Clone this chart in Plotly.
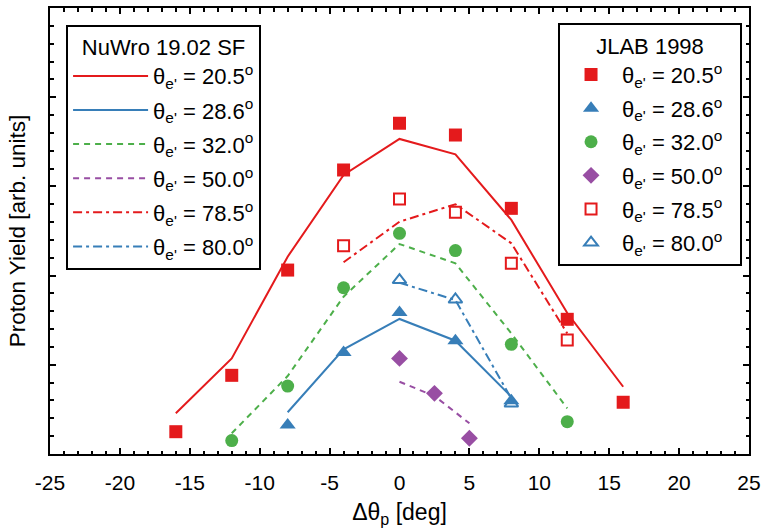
import plotly.graph_objects as go

# ---------------- data ----------------
angle_labels = ["20.5", "28.6", "32.0", "50.0", "78.5", "80.0"]

# NuWro 19.02 SF predictions (lines)
nuwro_x_205 = [-16, -12, -8, -4, 0, 4, 8, 12, 16]
nuwro_y_205 = [2.28, 5.36, 11.06, 15.64, 17.66, 16.8, 13.12, 7.9, 3.77]
nuwro_x_286 = [-8, -4, 0, 4, 8]
nuwro_y_286 = [2.34, 5.87, 7.57, 6.35, 3.21]
nuwro_x_320 = [-12, -8, -4, 0, 4, 8, 12]
nuwro_y_320 = [1.16, 4.37, 8.82, 11.77, 10.69, 6.76, 2.56]
nuwro_x_500 = [0, 2.5, 5]
nuwro_y_500 = [4.05, 3.25, 1.72]
nuwro_x_785 = [-4, 0, 4, 8, 12]
nuwro_y_785 = [10.75, 13.02, 14.0, 11.81, 6.76]
nuwro_x_800 = [0, 4, 8]
nuwro_y_800 = [9.60, 8.63, 3.1]

# JLAB 1998 data (markers)
jlab_x_205 = [-16, -12, -8, -4, 0, 4, 8, 12, 16]
jlab_y_205 = [1.25, 4.41, 10.31, 15.92, 18.54, 17.88, 13.77, 7.55, 2.90]
jlab_x_286 = [-8, -4, 0, 4, 8]
jlab_y_286 = [1.62, 5.69, 7.93, 6.35, 2.98]
jlab_x_320 = [-12, -8, -4, 0, 4, 8, 12]
jlab_y_320 = [0.75, 3.81, 9.32, 12.37, 11.40, 6.15, 1.81]
jlab_x_500 = [0, 2.5, 5]
jlab_y_500 = [5.36, 3.40, 0.88]
jlab_x_785 = [-4, 0, 4, 8, 12]
jlab_y_785 = [11.68, 14.29, 13.55, 10.69, 6.39]
jlab_x_800 = [0, 4, 8]
jlab_y_800 = [9.75, 8.66, 2.83]

x_tickvals = [-25, -20, -15, -10, -5, 0, 5, 10, 15, 20, 25]
x_ticktext = ["-25", "-20", "-15", "-10", "-5", "0", "5", "10", "15", "20", "25"]

# ---------------- styles ----------------
RED, BLUE, GREEN, PURPLE = "#e41a1c", "#377eb8", "#4daf4a", "#984ea3"
FONT = "Liberation Sans, Arial, Helvetica, sans-serif"
DASH = "6px,5px"
DASHDOT = "9px,4px,3px,4px"


def label(a, pad=""):
    return "\u03b8<sub>e'</sub> = " + a + "<sup>o</sup>" + pad


fig = go.Figure()

nuwro = [
    (nuwro_x_205, nuwro_y_205, RED, "solid"),
    (nuwro_x_286, nuwro_y_286, BLUE, "solid"),
    (nuwro_x_320, nuwro_y_320, GREEN, DASH),
    (nuwro_x_500, nuwro_y_500, PURPLE, DASH),
    (nuwro_x_785, nuwro_y_785, RED, DASHDOT),
    (nuwro_x_800, nuwro_y_800, BLUE, DASHDOT),
]
for i, ((xs, ys, c, d), a) in enumerate(zip(nuwro, angle_labels)):
    fig.add_trace(go.Scatter(
        x=xs, y=ys, mode="lines", name=label(a),
        line=dict(color=c, width=2, dash=d), legend="legend",
        legendgroup="n%d" % i,
    ))

jlab = [
    (jlab_x_205, jlab_y_205, RED, "square", 13),
    (jlab_x_286, jlab_y_286, BLUE, "triangle-up", 14),
    (jlab_x_320, jlab_y_320, GREEN, "circle", 13),
    (jlab_x_500, jlab_y_500, PURPLE, "diamond", 13),
    (jlab_x_785, jlab_y_785, RED, "square-open", 11),
    (jlab_x_800, jlab_y_800, BLUE, "triangle-up-open", 12),
]
for i, ((xs, ys, c, s, sz), a) in enumerate(zip(jlab, angle_labels)):
    fig.add_trace(go.Scatter(
        x=xs, y=ys, mode="markers", name=label(a, "\u00a0\u00a0"),
        marker=dict(color=c, symbol=s, size=sz, line=dict(color=c, width=2 if "open" in s else 0)),
        legend="legend2", legendgroup="j%d" % i,
    ))

axis_common = dict(
    showline=True, linecolor="black", linewidth=2, mirror="ticks",
    ticks="inside", ticklen=6, tickwidth=2, tickcolor="black",
    showgrid=False, zeroline=False, automargin=False,
)
minor_common = dict(dtick=1, tick0=0, ticks="inside", ticklen=3.5, tickwidth=2, tickcolor="black")

fig.update_layout(
    width=766, height=532,
    margin=dict(l=50, r=17, t=8, b=78, autoexpand=False),
    paper_bgcolor="white", plot_bgcolor="white",
    font=dict(family=FONT, size=21, color="black"),
    xaxis=dict(
        range=[-25, 25], tickvals=x_tickvals, ticktext=x_ticktext,
        minor=minor_common, ticklabelstandoff=9,
        title=dict(text="\u0394\u03b8<sub>p</sub> [deg]", font=dict(size=23), standoff=11),
        tickfont=dict(size=21),
        **axis_common,
    ),
    yaxis=dict(
        range=[0, 25], tickvals=[5, 10, 15, 20], showticklabels=False,
        minor=minor_common,
        title=dict(text="Proton Yield [arb. units]", font=dict(size=22.5), standoff=16),
        **axis_common,
    ),
    legend=dict(
        x=0.023, y=0.963, xanchor="left", yanchor="top",
        bgcolor="white", bordercolor="black", borderwidth=2,
        font=dict(size=22), traceorder="grouped", tracegroupgap=2.5,
        title=dict(text="NuWro 19.02 SF", side="top center", font=dict(size=22)),
        itemwidth=75,
    ),
    legend2=dict(
        x=0.7268, y=0.966, xanchor="left", yanchor="top",
        bgcolor="white", bordercolor="black", borderwidth=2,
        font=dict(size=22), traceorder="grouped", tracegroupgap=2.0,
        title=dict(text="JLAB 1998", side="top center", font=dict(size=22)),
        itemwidth=52,
    ),
)

fig.write_html("out.html", post_script="document.body.style.margin='0px';",
               config={"displayModeBar": False})
